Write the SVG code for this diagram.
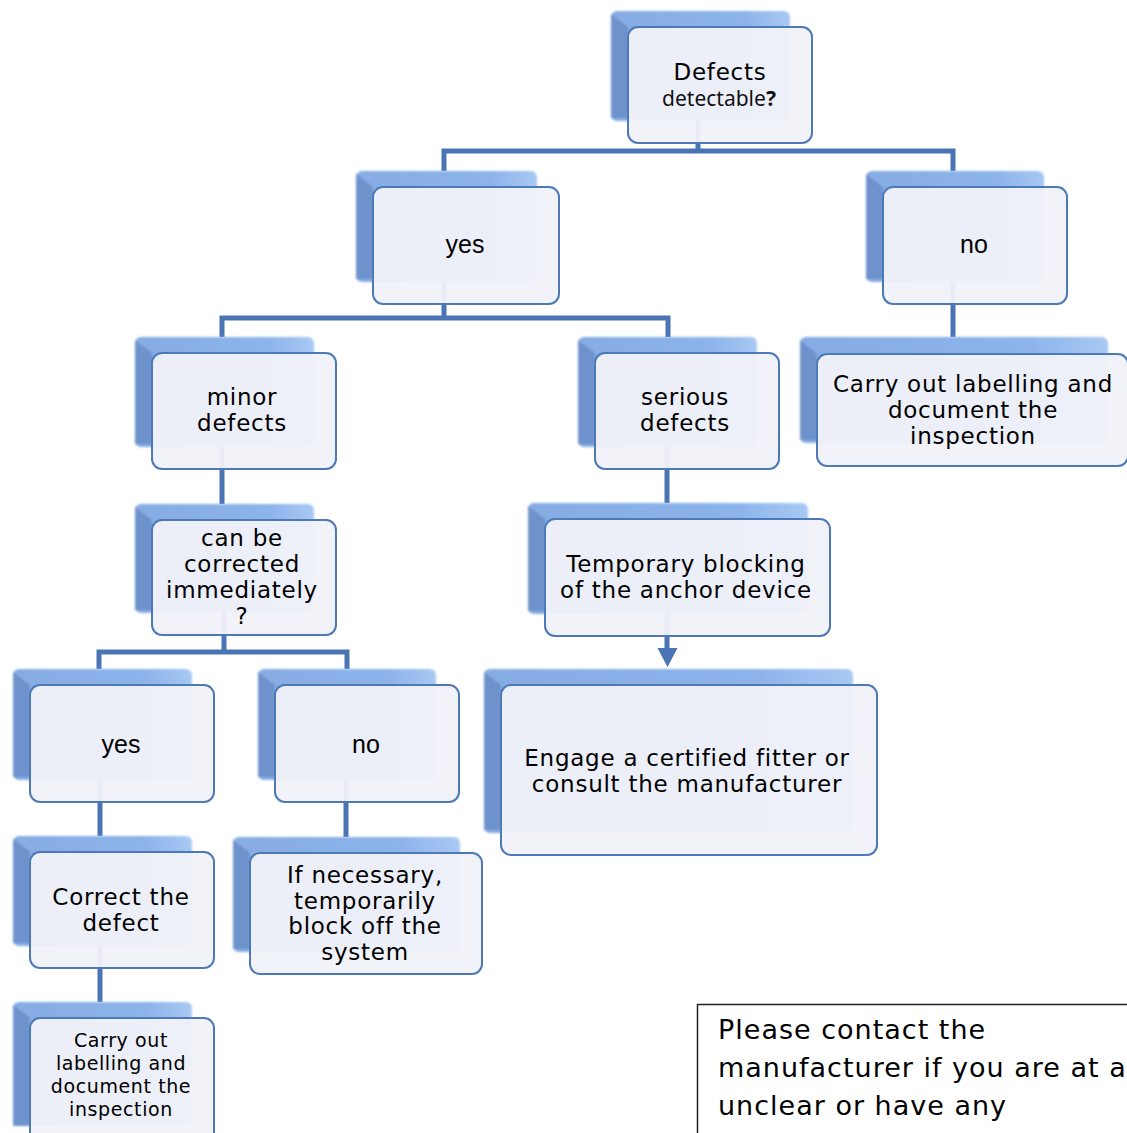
<svg xmlns="http://www.w3.org/2000/svg" width="1127" height="1133" viewBox="0 0 1127 1133">
<defs>
  <linearGradient id="shg" x1="0" y1="0" x2="1" y2="0">
    <stop offset="0" stop-color="#86ace3"/>
    <stop offset="0.75" stop-color="#8db4ea"/>
    <stop offset="1" stop-color="#a9c9f4"/>
  </linearGradient>
  <filter id="soft" x="-5%" y="-5%" width="110%" height="110%">
    <feGaussianBlur stdDeviation="1.1"/>
  </filter>
  <style>
    .sh { fill: url(#shg); }
    .bev { fill: #6e93cc; }
    .fr { fill: #f1f2f9; fill-opacity: 0.95; stroke: #4d79b9; stroke-width: 2; }
    .t { font-family: "DejaVu Sans", Verdana, sans-serif; font-size: 23px; letter-spacing: 0.75px; text-anchor: middle; fill: #000; }
    .a { font-family: "Liberation Sans", Arial, sans-serif; font-size: 25px; text-anchor: middle; fill: #000; }
    .sm { font-size: 19px; letter-spacing: 0.6px; }
    .cn { fill: none; stroke: #4a74b4; stroke-width: 5; }
    .note { font-family: "DejaVu Sans", Verdana, sans-serif; font-size: 27px; letter-spacing: 1px; fill: #000; }
  </style>
</defs>
<rect width="1127" height="1133" fill="#ffffff"/>

<g id="connectors">
  <path class="cn" d="M698,85 V151"/>
  <path class="cn" d="M444,171 V151 H953 V171"/>
  <path class="cn" d="M444,245 V318"/>
  <path class="cn" d="M222,337 V318 H668 V337"/>
  <path class="cn" d="M953,245 V337"/>
  <path class="cn" d="M222,411 V504"/>
  <path class="cn" d="M667,411 V503"/>
  <path class="cn" d="M667,578 V651"/>
  <polygon points="657.5,648 677.5,648 667.5,667" fill="#4a74b4"/>
  <path class="cn" d="M224,578 V652"/>
  <path class="cn" d="M99,669 V652 H347 V669"/>
  <path class="cn" d="M100,744 V836"/>
  <path class="cn" d="M346,744 V837"/>
  <path class="cn" d="M100,910 V1002"/>
</g>

<g id="n-defects">
  <g filter="url(#soft)"><rect class="sh" x="611" y="11" width="179" height="110" rx="6"/><polygon class="bev" points="611,14 628,27 628,118 611,118"/></g>
  <rect class="fr" x="628" y="27" width="184" height="116" rx="10"/>
  <text class="t" x="720" y="80">Defects</text>
  <text x="719" y="106" font-family="'Noto Sans', 'DejaVu Sans', sans-serif" font-size="21" text-anchor="middle" fill="#111">detectable<tspan font-weight="bold">?</tspan></text>
</g>

<g id="n-yes1">
  <g filter="url(#soft)"><rect class="sh" x="356" y="171" width="181" height="111" rx="6"/><polygon class="bev" points="356,174 373,187 373,279 356,279"/></g>
  <rect class="fr" x="373" y="187" width="186" height="117" rx="10"/>
  <text class="a" x="465" y="253">yes</text>
</g>

<g id="n-no1">
  <g filter="url(#soft)"><rect class="sh" x="866" y="171" width="178" height="111" rx="6"/><polygon class="bev" points="866,174 883,187 883,279 866,279"/></g>
  <rect class="fr" x="883" y="187" width="184" height="117" rx="10"/>
  <text class="a" x="974" y="253">no</text>
</g>

<g id="n-minor">
  <g filter="url(#soft)"><rect class="sh" x="135" y="337" width="179" height="110" rx="6"/><polygon class="bev" points="135,340 152,353 152,444 135,444"/></g>
  <rect class="fr" x="152" y="353" width="184" height="116" rx="10"/>
  <text class="t" x="242" y="405">minor</text>
  <text class="t" x="242" y="431">defects</text>
</g>

<g id="n-serious">
  <g filter="url(#soft)"><rect class="sh" x="578" y="337" width="179" height="110" rx="6"/><polygon class="bev" points="578,340 595,353 595,444 578,444"/></g>
  <rect class="fr" x="595" y="353" width="184" height="116" rx="10"/>
  <text class="t" x="685" y="405">serious</text>
  <text class="t" x="685" y="431">defects</text>
</g>

<g id="n-label1">
  <g filter="url(#soft)"><rect class="sh" x="800" y="337" width="308" height="106" rx="6"/><polygon class="bev" points="800,340 817,354 817,440 800,440"/></g>
  <rect class="fr" x="817" y="354" width="311" height="112" rx="10"/>
  <text class="t" x="973" y="392">Carry out labelling and</text>
  <text class="t" x="973" y="418">document the</text>
  <text class="t" x="973" y="444">inspection</text>
</g>

<g id="n-canbe">
  <g filter="url(#soft)"><rect class="sh" x="135" y="504" width="179" height="109" rx="6"/><polygon class="bev" points="135,507 152,520 152,610 135,610"/></g>
  <rect class="fr" x="152" y="520" width="184" height="115" rx="10"/>
  <text class="t" x="242" y="546">can be</text>
  <text class="t" x="242" y="572">corrected</text>
  <text class="t" x="242" y="598">immediately</text>
  <text class="t" x="242" y="624">?</text>
</g>

<g id="n-temp">
  <g filter="url(#soft)"><rect class="sh" x="528" y="503" width="280" height="111" rx="6"/><polygon class="bev" points="528,506 545,519 545,611 528,611"/></g>
  <rect class="fr" x="545" y="519" width="285" height="117" rx="10"/>
  <text class="t" x="686" y="572">Temporary blocking</text>
  <text class="t" x="686" y="598">of the anchor device</text>
</g>

<g id="n-engage">
  <g filter="url(#soft)"><rect class="sh" x="484" y="669" width="369" height="164" rx="6"/><polygon class="bev" points="484,672 501,685 501,830 484,830"/></g>
  <rect class="fr" x="501" y="685" width="376" height="170" rx="10"/>
  <text class="t" x="687" y="766">Engage a certified fitter or</text>
  <text class="t" x="687" y="792">consult the manufacturer</text>
</g>

<g id="n-yes2">
  <g filter="url(#soft)"><rect class="sh" x="13" y="669" width="179" height="111" rx="6"/><polygon class="bev" points="13,672 30,685 30,777 13,777"/></g>
  <rect class="fr" x="30" y="685" width="184" height="117" rx="10"/>
  <text class="a" x="121" y="753">yes</text>
</g>

<g id="n-no2">
  <g filter="url(#soft)"><rect class="sh" x="258" y="669" width="178" height="111" rx="6"/><polygon class="bev" points="258,672 275,685 275,777 258,777"/></g>
  <rect class="fr" x="275" y="685" width="184" height="117" rx="10"/>
  <text class="a" x="366" y="753">no</text>
</g>

<g id="n-correct">
  <g filter="url(#soft)"><rect class="sh" x="13" y="836" width="179" height="110" rx="6"/><polygon class="bev" points="13,839 30,852 30,943 13,943"/></g>
  <rect class="fr" x="30" y="852" width="184" height="116" rx="10"/>
  <text class="t" x="121" y="905">Correct the</text>
  <text class="t" x="121" y="931">defect</text>
</g>

<g id="n-block">
  <g filter="url(#soft)"><rect class="sh" x="233" y="837" width="227" height="115" rx="6"/><polygon class="bev" points="233,840 250,853 250,949 233,949"/></g>
  <rect class="fr" x="250" y="853" width="232" height="121" rx="10"/>
  <text class="t" x="365" y="883">If necessary,</text>
  <text class="t" x="365" y="909">temporarily</text>
  <text class="t" x="365" y="934">block off the</text>
  <text class="t" x="365" y="960">system</text>
</g>

<g id="n-label2">
  <g filter="url(#soft)"><rect class="sh" x="13" y="1002" width="179" height="124" rx="6"/><polygon class="bev" points="13,1005 30,1018 30,1126 13,1126"/></g>
  <rect class="fr" x="30" y="1018" width="184" height="130" rx="10"/>
  <text class="t sm" x="121" y="1047">Carry out</text>
  <text class="t sm" x="121" y="1070">labelling  and</text>
  <text class="t sm" x="121" y="1093">document the</text>
  <text class="t sm" x="121" y="1116">inspection</text>
</g>

<g id="note">
  <rect x="697.5" y="1004.5" width="440" height="200" fill="#ffffff" stroke="#222" stroke-width="1.5"/>
  <text class="note" x="718" y="1039">Please contact the</text>
  <text class="note" x="718" y="1077">manufacturer if you are at a</text>
  <text class="note" x="718" y="1115">unclear or have any</text>
  <text class="note" x="718" y="1153">questions.</text>
</g>
</svg>
